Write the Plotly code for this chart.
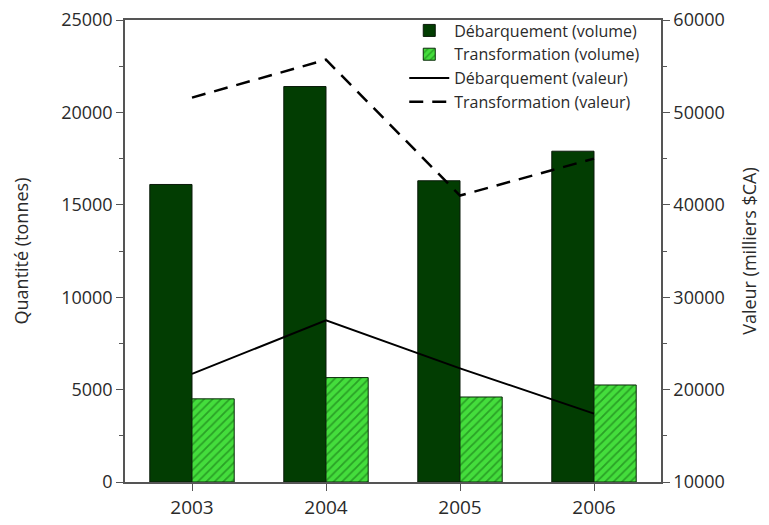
import plotly.graph_objects as go

annees = ["2003", "2004", "2005", "2006"]
debarq_volume = [16100, 21400, 16300, 17900]
transf_volume = [4500, 5650, 4600, 5250]
debarq_valeur = [21700, 27500, 22300, 17400]
transf_valeur = [51600, 55700, 41000, 45000]

vert_fonce = "#023d02"
vert_clair = "#44dd3c"
police = "Open Sans"
gris = "#2a2a2a"

fig = go.Figure()

fig.add_trace(go.Bar(
    x=annees, y=debarq_volume, name="Débarquement (volume)",
    marker=dict(color=vert_fonce, line=dict(color="#0a1a0a", width=1)),
))
fig.add_trace(go.Bar(
    x=annees, y=transf_volume, name="Transformation (volume)",
    marker=dict(color=vert_clair, line=dict(color="#0a2a0a", width=1),
                pattern=dict(shape="/", fgcolor="#0f660f", bgcolor=vert_clair,
                             size=6, solidity=0.3)),
))
fig.add_trace(go.Scatter(
    x=annees, y=debarq_valeur, name="Débarquement (valeur)", yaxis="y2",
    mode="lines", line=dict(color="black", width=2),
))
fig.add_trace(go.Scatter(
    x=annees, y=transf_valeur, name="Transformation (valeur)", yaxis="y2",
    mode="lines", line=dict(color="black", width=2.5, dash="14px,9px"),
))

# la page ajoute une marge de 8 px autour du graphique
fig.update_layout(
    width=761, height=517,
    margin=dict(l=117, r=108, t=6, b=43),
    paper_bgcolor="white", plot_bgcolor="white",
    font=dict(family=police, size=18, color=gris),
    barmode="group", bargap=0.37, bargroupgap=0,
    showlegend=True,
    legend=dict(x=0.521, y=1.014, xanchor="left", yanchor="top",
                bgcolor="rgba(0,0,0,0)", font=dict(size=16, color=gris),
                tracegroupgap=0, itemwidth=40),
    xaxis=dict(
        type="category", showline=True, linecolor="#555", linewidth=1.5,
        mirror=True, ticks="outside", ticklen=7, tickcolor="#555",
        showgrid=False, range=[-0.5, 3.5], automargin=False,
        tickfont=dict(size=19),
    ),
    yaxis=dict(
        range=[0, 25000], dtick=5000, tickformat="d", showline=True,
        linecolor="#555", linewidth=1.5, ticks="outside", ticklen=7,
        tickcolor="#555", showgrid=False, zeroline=False,
        ticklabeloverflow="allow", automargin=False,
        minor=dict(dtick=2500, ticks="outside", ticklen=4, tickcolor="#555"),
        title=dict(text="Quantité (tonnes)", standoff=28, font=dict(size=18)),
    ),
    yaxis2=dict(
        overlaying="y", side="right", range=[10000, 60000], dtick=10000,
        tickformat="d", showline=True, linecolor="#555", linewidth=1.5,
        ticks="outside", ticklen=7, tickcolor="#555", showgrid=False,
        zeroline=False, ticklabeloverflow="allow", automargin=False,
        minor=dict(dtick=5000, ticks="outside", ticklen=4, tickcolor="#555"),
        title=dict(text="Valeur (milliers $CA)", standoff=20, font=dict(size=18)),
    ),
)

fig.write_html("out.html")
